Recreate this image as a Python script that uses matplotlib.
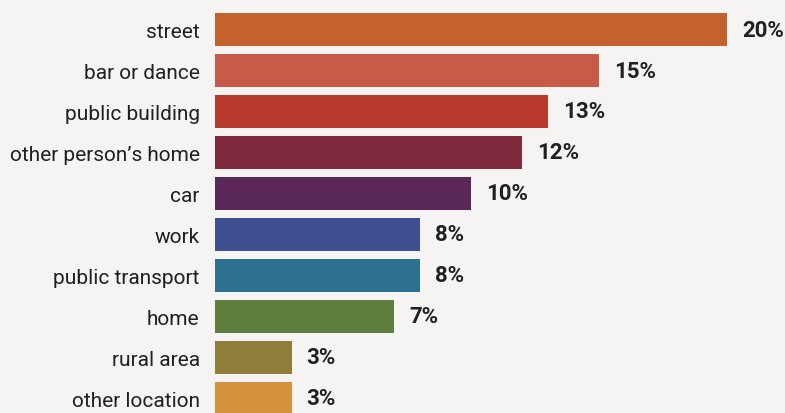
import matplotlib.pyplot as plt
from matplotlib import font_manager

locations = ['street', 'bar or dance', 'public building', "other person\u2019s home", 'car',
             'work', 'public transport', 'home', 'rural area', 'other location']
shares = [20, 15, 13, 12, 10, 8, 8, 7, 3, 3]
colors = ['#C4622E', '#C85A48', '#B83A2C', '#7E2A3C', '#5A2858',
          '#3E4E8E', '#2E7090', '#5E7E3E', '#8E7E3A', '#D4923E']

names = {f.name for f in font_manager.fontManager.ttflist}
font = 'Liberation Sans Narrow' if 'Liberation Sans Narrow' in names else 'Roboto'

bg = '#F5F4F2'
fig = plt.figure(figsize=(7.85, 4.14), dpi=100, facecolor=bg)
ax = fig.add_axes([215 / 785, 0, 570 / 785, 1], facecolor=bg)

y = range(len(locations))
ax.barh(y, shares, height=0.8, color=colors)

# percentage next to the end of each bar
for i, v in enumerate(shares):
    ax.text(v + 0.58, i, f'{v}%', va='center', ha='left', fontsize=16,
            fontweight='bold', color='#231F20', family=font)

ax.set_xlim(0, 570 / 25.6)
ax.set_ylim(9.354, -0.744)
ax.set_yticks(list(y))
ax.set_yticklabels(locations, fontsize=15, color='#231F20', family=font)
ax.tick_params(axis='y', length=0, pad=11)
ax.set_xticks([])
for s in ax.spines.values():
    s.set_visible(False)

fig.savefig('out.png', dpi=100, facecolor=bg)
